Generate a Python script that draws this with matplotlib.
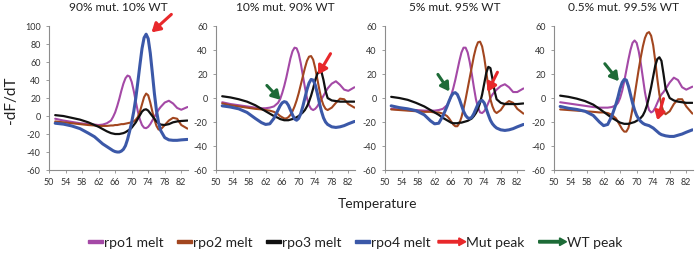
import matplotlib
matplotlib.use("Agg")
import matplotlib.pyplot as plt
import matplotlib.patches as mpatches
from matplotlib.legend_handler import HandlerPatch

plt.rcParams['font.family'] = ['Lato', 'DejaVu Sans']
plt.rcParams['axes.unicode_minus'] = False

# temperature grid (deg C) shared by every curve
temp = [51.5, 53.5, 55.5, 57.5, 59.5, 61, 62, 63, 64, 65, 65.5, 66, 66.5, 67, 67.5,
        68, 68.5, 69, 69.5, 70, 70.5, 71, 71.5, 72, 72.5, 73, 73.5, 74, 74.5, 75,
        75.5, 76, 76.5, 77, 78, 79, 80, 81, 82, 83.5]

titles = ['90% mut. 10% WT', '10% mut. 90% WT', '5% mut. 95% WT', '0.5% mut. 99.5% WT']

# panel 1: 90% mut
p1_rpo1 = [-3, -5, -6.5, -8, -9, -9.5, -10, -9.5, -8, -5, -1, 4, 11, 19, 28, 36, 42, 45, 44, 38,
           28, 16, 5, -4, -10, -13, -13.5, -12, -9, -5, -1, 3, 7, 10, 15, 17, 14, 9, 7, 10]
p1_rpo2 = [-6, -7, -8, -9, -10, -10.5, -11, -11, -11, -10.5, -10.5, -10, -10, -9.5, -9, -9, -8.5,
           -8, -7.5, -7, -6, -4, -1, 5, 13, 21, 25, 23, 15, 5, -4, -11, -15, -15, -10, -5, -2, -3,
           -10, -14]
p1_rpo3 = [1, 0, -2, -4, -7, -10, -12, -14.5, -17, -19, -19.5, -20, -20, -20, -19.5, -19, -18,
           -16.5, -15, -13, -10, -7, -3, 1, 5, 7, 7.5, 6, 3, 0, -3, -6, -8, -9.5, -10, -9, -7, -6,
           -5.5, -5]
p1_rpo4 = [-8, -9, -11, -14, -19, -23, -27, -31, -34, -37, -38.5, -39.5, -40, -40, -39, -37, -33,
           -26, -17, -7, 5, 20, 38, 57, 75, 87, 91, 86, 70, 48, 25, 6, -7, -16, -24, -26.5, -27,
           -27, -26.5, -26]

# panel 2: 10% mut
p2_rpo1 = [-3.5, -5, -6, -7, -8, -8.5, -8.5, -8, -7, -4, -1, 4, 10, 17, 25, 33, 39, 42, 41.5, 37,
           29, 19, 9, 0, -6, -9, -10, -9, -7, -4, -1, 2, 5, 8, 12, 14, 11, 7, 6, 9]
p2_rpo2 = [-4.5, -6, -7, -8, -9, -9.5, -10, -10.5, -11.5, -13.5, -15, -16, -17, -17, -16, -14,
           -11, -7, -2, 4, 11, 18, 25, 31, 34.5, 35, 32, 25, 16, 7, -1, -6, -9, -10, -8, -4, -0.5,
           -1, -5, -8]
p2_rpo3 = [1.5, 0.5, -1, -3, -6, -9, -11, -13, -15, -16.5, -17.5, -18, -18.5, -18.5, -18.5, -18,
           -17.5, -17, -16, -15, -13.5, -12, -10, -7, -3, 2, 8, 15, 20, 22.5, 22, 15, 6, 0, -2,
           -2.5, -3, -3, -3, -3]
p2_rpo4 = [-6.5, -7.5, -9, -12, -17, -20.5, -22, -21.5, -17, -10, -6.5, -4, -3, -3.5, -6, -10,
           -14, -17.5, -18.5, -17, -13, -7, 0, 7, 12.5, 15.5, 15, 11, 4, -4, -11, -16.5, -20, -22,
           -24, -24.5, -24, -23, -21.5, -19.5]

# panel 3: 5% mut
p3_rpo1 = [-9, -9.5, -10, -10, -10.5, -10.5, -10.5, -10, -9, -6, -3, 2, 8, 15, 23, 31, 38, 42, 42,
           38, 30, 20, 9, -1, -8, -12, -12.5, -11, -8, -4, 0, 3, 5, 7, 10, 11.5, 9, 5, 5, 8]
p3_rpo2 = [-9.5, -10, -10.5, -11, -11.5, -11.5, -12, -12, -13, -15, -17, -19.5, -22, -23.5, -23.5,
           -21, -16, -9, -1, 8, 17, 26, 35, 42, 46.5, 47, 43, 34, 22, 9, -1, -7, -11, -12.5, -10,
           -5, -2.5, -4, -9, -13]
p3_rpo3 = [1, 0, -1.5, -4, -7, -10, -12, -14, -16.5, -18.5, -19.5, -20.5, -21, -21, -21, -20.5,
           -20.5, -20, -19.5, -19, -18, -17, -15, -12.5, -9, -4, 3, 12, 21, 26, 25, 16, 6, -1, -4,
           -5, -5, -5, -5, -4.5]
p3_rpo4 = [-6.5, -8, -9, -10.5, -14, -19, -21.5, -21, -15, -7, -2.5, 1.5, 4, 4.5, 3, -1, -6, -11,
           -14.5, -16.5, -17, -16, -13, -9, -5, -2.5, -2, -4, -9, -14, -18.5, -21.5, -23.5, -25,
           -26.5, -27, -26.5, -25.5, -24, -22]

# panel 4: 0.5% mut
p4_rpo1 = [-3.5, -4.5, -5.5, -6.5, -7.5, -8, -8, -8, -7.5, -6, -4, 0, 6, 14, 23, 32, 40, 46, 48,
           46, 39, 29, 17, 5, -4, -10, -12, -11, -8, -4, 0, 3, 5, 7.5, 13, 17, 15, 9, 7, 9.5]
p4_rpo2 = [-9.5, -10, -10.5, -11, -11.5, -12, -12, -12.5, -14, -17, -20, -23, -26, -28, -28, -25,
           -18, -9, 2, 13, 24, 34, 43, 50, 54, 55, 52, 44, 31, 16, 3, -6, -11.5, -13.5, -11, -5,
           -1, -1, -7, -13]
p4_rpo3 = [2, 1, -0.5, -2.5, -5.5, -9, -11.5, -14, -16.5, -18.5, -19.5, -20.5, -21, -21.5, -21.5,
           -21.5, -21, -20.5, -20, -19, -18, -16.5, -14.5, -11, -6, 1, 9, 18, 27, 32.5, 34, 31,
           20, 8, 0, -2, -3, -3.5, -4, -4]
p4_rpo4 = [-7, -8.5, -9.5, -11, -14.5, -20, -23, -22, -15, -5, 1, 8, 13, 15.5, 15, 10, 3, -4, -10,
           -14.5, -17.5, -19.5, -21, -22, -22.5, -23, -24, -25, -26.5, -28, -29.5, -30.5, -31,
           -31.5, -32, -32, -31, -30, -28.5, -26.5]

# arrows: (tail x, tail y, head x, head y) per panel
mut_arrows = [(79.6, 113, 74.8, 93), (77.7, 37, 74.7, 19.5), (77.2, 21.5, 74.8, 5),
              (76.5, -0.5, 75.0, -18.5)]
wt_arrows = [None, (62.3, 10.5, 65.6, -1.5), (62.8, 19.7, 65.6, 5.5), (62.3, 28.6, 65.7, 14)]

panels = [
    [p1_rpo1, p1_rpo2, p1_rpo3, p1_rpo4],
    [p2_rpo1, p2_rpo2, p2_rpo3, p2_rpo4],
    [p3_rpo1, p3_rpo2, p3_rpo3, p3_rpo4],
    [p4_rpo1, p4_rpo2, p4_rpo3, p4_rpo4],
]
series_names = ['rpo1 melt', 'rpo2 melt', 'rpo3 melt', 'rpo4 melt']
arrow_names = ['Mut peak', 'WT peak']
colors = ['#A449A6', '#A2461F', '#111111', '#3B58A8']
widths = [1.5, 1.5, 1.6, 2.2]
red = '#E8282B'
green = '#1D6B37'
axis_grey = '#8C8C8C'
text_col = '#222222'
arrow_style = '-|>,head_length=0.5,head_width=0.3'

fig = plt.figure(figsize=(7, 2.57), dpi=100)
lefts = [0.070, 0.3086, 0.55, 0.7914]

for i, series in enumerate(panels):
    ax = fig.add_axes([lefts[i], 0.3385, 0.199, 0.560])
    for vals, c, lw in zip(series, colors, widths):
        ax.plot(temp, vals, color=c, lw=lw, solid_capstyle='round')
    ax.set_xlim(50, 83.7)
    ax.set_xticks(range(50, 83, 4))
    if i == 0:
        ax.set_ylim(-60, 100)
        ax.set_yticks(range(-60, 101, 20))
    else:
        ax.set_ylim(-60, 60)
        ax.set_yticks(range(-60, 61, 20))
    for s in ['top', 'right']:
        ax.spines[s].set_visible(False)
    for s in ['left', 'bottom']:
        ax.spines[s].set_color(axis_grey)
        ax.spines[s].set_linewidth(0.8)
    ax.tick_params(direction='out', length=2.5, width=0.6, color=axis_grey,
                   labelsize=6.5, pad=3.5, labelcolor='#333333')
    ax.set_title(titles[i], fontsize=8.6, pad=11, color=text_col)

    tx, ty, hx, hy = mut_arrows[i]
    ax.annotate('', xy=(hx, hy), xytext=(tx, ty), annotation_clip=False,
                arrowprops=dict(arrowstyle=arrow_style, color=red, lw=2.2,
                                mutation_scale=10, shrinkA=0, shrinkB=0))
    if wt_arrows[i] is not None:
        tx, ty, hx, hy = wt_arrows[i]
        ax.annotate('', xy=(hx, hy), xytext=(tx, ty), annotation_clip=False,
                    arrowprops=dict(arrowstyle=arrow_style, color=green, lw=2.2,
                                    mutation_scale=10, shrinkA=0, shrinkB=0))

fig.text(0.016, 0.61, '-dF/dT', rotation=90, fontsize=11, ha='center', va='center',
         color=text_col)
fig.text(0.539, 0.205, 'Temperature', fontsize=10, ha='center', va='center', color=text_col)


def bar_patch(legend, orig_handle, xdescent, ydescent, width, height, fontsize):
    return mpatches.Rectangle((0, height * 0.5 - 1.0), width, 2.0)


def arrow_patch(legend, orig_handle, xdescent, ydescent, width, height, fontsize):
    return mpatches.FancyArrow(0, height * 0.5, width, 0, width=1.8, head_width=5.5,
                               head_length=5, length_includes_head=True)


line_handles = [mpatches.Patch(color=c) for c in colors]
arrow_handles = [mpatches.Patch(color=red), mpatches.Patch(color=green)]

fig.legend(line_handles, series_names, handler_map={mpatches.Patch: HandlerPatch(patch_func=bar_patch)},
           loc='center left', bbox_to_anchor=(0.1257, 0.056), ncol=4, frameon=False,
           fontsize=10, handlelength=1.08, handletextpad=0.05, columnspacing=1.0,
           borderpad=0, borderaxespad=0, labelcolor=text_col)
fig.legend(arrow_handles, arrow_names, handler_map={mpatches.Patch: HandlerPatch(patch_func=arrow_patch)},
           loc='center left', bbox_to_anchor=(0.6257, 0.056), ncol=2, frameon=False,
           fontsize=10, handlelength=2.0, handletextpad=0.05, columnspacing=1.0,
           borderpad=0, borderaxespad=0, labelcolor=text_col)

fig.savefig('out.png', dpi=100)
